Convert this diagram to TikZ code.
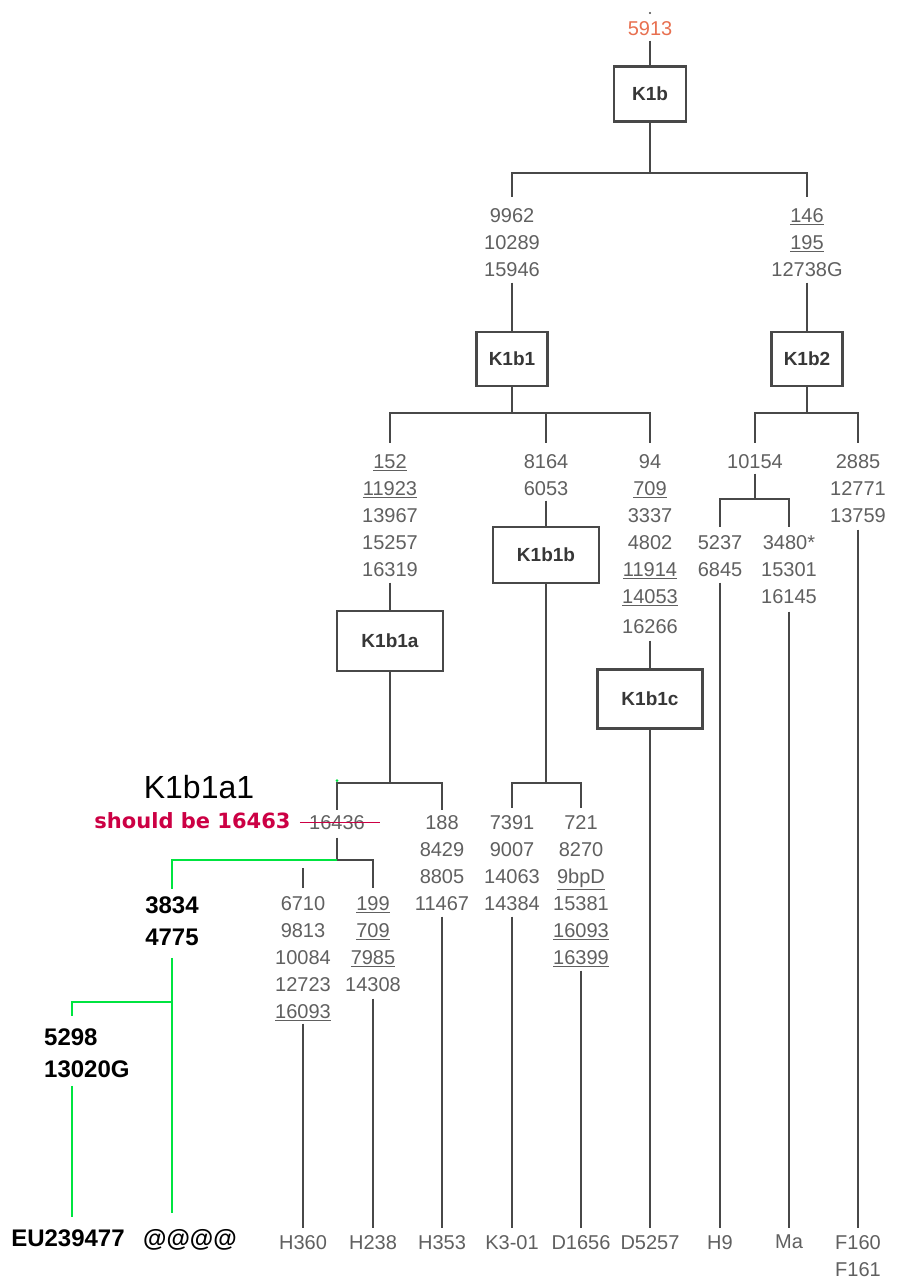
\documentclass[tikz,border=0pt]{standalone}
\usepackage{fontspec}
\setmainfont{Liberation Sans}
\newfontfamily\dejavu{DejaVu Sans}
\usepackage{xcolor}
\definecolor{linegray}{RGB}{72,72,72}
\definecolor{numgray}{RGB}{96,96,96}
\definecolor{boxtext}{RGB}{55,55,55}
\definecolor{salmon}{RGB}{232,112,80}
\definecolor{brightgreen}{RGB}{0,228,64}
\definecolor{crimson}{RGB}{204,0,68}

\begin{document}
\begin{tikzpicture}[x=1pt,y=-1pt,
        box/.style={draw=linegray, line width=2.4pt, minimum width=71pt, minimum height=54pt, inner sep=0pt, text=boxtext, font=\fontsize{19}{22}\selectfont\bfseries},
        bigbox/.style={box, minimum width=106pt, minimum height=58pt},
        num/.style={anchor=north, inner sep=0pt, align=center, text=numgray, font=\fontsize{20}{27}\selectfont},
        blk/.style={anchor=north, inner sep=0pt, align=center, text=black, font=\fontsize{24}{32}\selectfont\bfseries},
        branch/.style={draw=linegray, line width=2.6pt},
        addbranch/.style={draw=brightgreen, line width=2.8pt},
        elbow/.style={to path={-| (\tikztotarget)}}]
        \useasboundingbox (0,0) rectangle (899,1279);
        \fill[white] (0,0) rectangle (899,1279);
        % top
        \fill[linegray] (650,13) circle (1.2);
        \node[num, text=salmon](n5913) at (650,21) {5913};
        \node[box, minimum width=72pt, minimum height=55pt](K1b) at (650,94) {K1b};
        \coordinate (j0) at (650,173);
        \node[num](s9962) at (512,208) {9962\\10289\\15946};
        \node[num](s146) at (807,208) {\underline{146}\\\underline{195}\\12738G};
        \node[box](K1b1) at (512,359) {K1b1};
        \node[box](K1b2) at (807,359) {K1b2};
        % K1b1
        \coordinate (j1) at (512,413);
        \node[num](s152) at (390,454) {\underline{152}\\\underline{11923}\\13967\\15257\\16319};
        \node[num](s8164) at (546,454) {8164\\6053};
        \node[num](s94) at (650,454) {94\\\underline{709}\\3337\\4802\\\underline{11914}\\\underline{14053}\\[3pt]16266};
        \node[bigbox, minimum height=60pt](K1b1a) at (390,641) {K1b1a};
        \node[bigbox, minimum height=56pt](K1b1b) at (546,555) {K1b1b};
        \node[bigbox, minimum width=105pt, minimum height=59pt](K1b1c) at (650,699) {K1b1c};
        % K1b2
        \coordinate (j2) at (807,413);
        \node[num](s10154) at (755,454) {10154};
        \node[num](s2885) at (858,454) {2885\\12771\\13759};
        \coordinate (j3) at (755,499);
        \node[num](s5237) at (720,535) {5237\\6845};
        \node[num](s3480) at (789,535) {3480*\\15301\\16145};
        % K1b1a
        \coordinate (j4) at (390,783);
        \node[num](s16436) at (337,815) {16436};
        \node[num](s188) at (442,815) {188\\8429\\8805\\11467};
        \coordinate (j5) at (337,860);
        \node[num](s6710) at (303,896) {6710\\9813\\10084\\12723\\\underline{16093}};
        \node[num](s199) at (373,896) {\underline{199}\\\underline{709}\\\underline{7985}\\14308};
        % K1b1b
        \coordinate (j8) at (546,783);
        \node[num](s7391) at (512,815) {7391\\9007\\14063\\14384};
        \node[num](s721) at (581,815) {721\\8270\\\underline{9bpD}\\15381\\\underline{16093}\\\underline{16399}};
        % added branch
        \node[anchor=north, inner sep=0pt, font=\fontsize{32}{36}\selectfont](K1b1a1) at (199,775.5) {K1b1a1};
        \node[anchor=base, inner sep=0pt, text=crimson, font=\dejavu\bfseries\fontsize{21}{24}\selectfont](fix) at (192.5,828) {should be 16463};
        \node[blk](s3834) at (172,896.4) {3834\\4775};
        \coordinate (j6) at (172,1002);
        \coordinate (j7) at (72,1016);
        \node[blk, anchor=north west, align=left](s5298) at (44,1028.4) {5298\\13020G};
        \node[blk, anchor=base](eu) at (68,1246.6) {EU239477};
        \node[blk, anchor=base](atsign) at (190,1246.6) {@@@@};
        % leaves
        \node[num](H360) at (303,1235) {H360};
        \node[num](H238) at (373,1235) {H238};
        \node[num](H353) at (442,1235) {H353};
        \node[num](K301) at (512,1235) {K3-01};
        \node[num](D1656) at (581,1235) {D1656};
        \node[num](D5257) at (650,1235) {D5257};
        \node[num](H9) at (720,1235) {H9};
        \node[num](Ma) at (789,1235) {Ma};
        \node[num](F160) at (858,1235) {F160\\F161};
        \path[branch]
            (n5913.south) edge [shorten <=5pt] (K1b.north)
            (K1b) edge (j0)
            (j0) edge [elbow, shorten >=11pt] (s9962.north)
                 edge [elbow, shorten >=11pt] (s146.north)
            (s9962.south) edge [shorten <=6pt] (K1b1.north)
            (s146.south) edge [shorten <=6pt] (K1b2.north)
            (K1b1) edge (j1)
            (j1) edge [elbow, shorten >=11pt] (s152.north)
                 edge [elbow, shorten >=11pt] (s8164.north)
                 edge [elbow, shorten >=11pt] (s94.north)
            (s152.south) edge [shorten <=6pt] (K1b1a.north)
            (s8164.south) edge [shorten <=5pt] (K1b1b.north)
            (s94.south) edge [shorten <=7pt] (K1b1c.north)
            (K1b2) edge (j2)
            (j2) edge [elbow, shorten >=11pt] (s10154.north)
                 edge [elbow, shorten >=11pt] (s2885.north)
            (s10154.south) edge [shorten <=5pt] (j3)
            (j3) edge [elbow, shorten >=8pt] (s5237.north)
                 edge [elbow, shorten >=8pt] (s3480.north)
            (K1b1a) edge (j4)
            (j4) edge [elbow, shorten >=5pt] (s16436.north)
                 edge [elbow, shorten >=5pt] (s188.north)
            (s16436.south) edge [shorten <=8pt] (j5)
            (j5) edge [elbow, shorten >=8pt] (s199.north)
            (K1b1b) edge (j8)
            (j8) edge [elbow, shorten >=7pt] (s7391.north)
                 edge [elbow, shorten >=7pt] (s721.north)
            % down to the leaves
            (s6710.south) edge [shorten <=3pt, shorten >=7pt] (H360.north)
            (s199.south) edge [shorten <=7pt, shorten >=7pt] (H238.north)
            (s188.south) edge [shorten <=6pt, shorten >=7pt] (H353.north)
            (s7391.south) edge [shorten <=6pt, shorten >=7pt] (K301.north)
            (s721.south) edge [shorten <=4pt, shorten >=7pt] (D1656.north)
            (K1b1c.south) edge [shorten >=7pt] (D5257.north)
            (s5237.south) edge [shorten <=6pt, shorten >=7pt] (H9.north)
            (s3480.south) edge [shorten <=8pt, shorten >=7pt] (Ma.north)
            (s2885.south) edge [shorten <=7pt, shorten >=7pt] (F160.north);
        \draw[branch] (s6710.north) ++(0,-8) -- ++(0,-20);
        \draw[crimson, line width=1.5pt] ([xshift=-9pt]s16436.west) -- ([xshift=15pt]s16436.east);
        \path[addbranch]
            (j5) edge [elbow, shorten >=7pt] (s3834.north)
            (s3834.south) edge [shorten <=12pt, shorten >=16pt] (s3834.south |- atsign.north)
            (j6) edge [elbow] (j7)
            (s5298.south -| j7) edge [shorten <=8pt, shorten >=13pt] (j7 |- eu.north);
        \fill[brightgreen] (337,780.5) circle (1.5);
\end{tikzpicture}
\end{document}
